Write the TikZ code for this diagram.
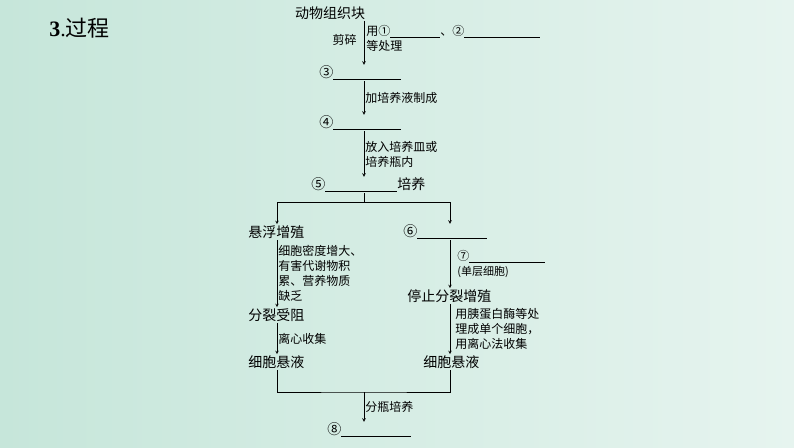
\documentclass[tikz,border=0pt]{standalone}
\usepackage{fontspec}
\setmainfont{Liberation Serif}
\newfontfamily\cjk{Noto Sans CJK SC}
\usetikzlibrary{positioning,calc,arrows}
\definecolor{bgleft}{RGB}{198,230,218}
\definecolor{bgright}{RGB}{230,244,239}
\newcommand{\blank}[1]{\underline{\hspace{#1}}}

\begin{document}
\begin{tikzpicture}[x=1pt,y=-1pt,->,>=stealth,semithick,font=\cjk\fontsize{14}{16}\selectfont]
  \tikzstyle{every node}=[inner sep=1pt]
  \tikzstyle{step label}=[anchor=west]
  \tikzstyle{note}=[anchor=west,align=left,font=\cjk\fontsize{12}{15}\selectfont]

  \shade[left color=bgleft,right color=bgright] (0,0) rectangle (794,447);
  \useasboundingbox (0,0) rectangle (794,447);

  \node[anchor=west,font=\fontsize{22}{24}\selectfont] (title) at (48,28) {\textbf{3}.{\cjk 过程}};

  % trunk
  \coordinate (trunk) at (364,0);
  \node (tissue) at (330,13) {动物组织块};
  \node[step label] (s3) at (318,73) {③\blank{68pt}};
  \node[step label] (s4) at (318,123) {④\blank{68pt}};
  \node[step label] (s5) at (310,185) {⑤\blank{72pt}培养};
  \coordinate (split) at (364,202);
  \coordinate (sl) at (277,202);
  \coordinate (sr) at (450,202);

  \draw (tissue.south -| trunk) -- (s3.north -| trunk)
        node[note,pos=0.4,xshift=1pt] {用①\blank{50pt}、②\blank{76pt}\\等处理};
  \node[anchor=east,font=\cjk\fontsize{12}{13}\selectfont] (cut) at (358,40) {剪碎};
  \draw (s3.south -| trunk) -- (s4.north -| trunk) node[note,midway] {加培养液制成};
  \draw (s4.south -| trunk) -- (s5.north -| trunk) node[note,midway] {放入培养皿或\\培养瓶内};

  % left branch
  \node[step label] (susp) at (247,232) {悬浮增殖};
  \node[step label] (block) at (247,315) {分裂受阻};
  \node[step label] (cellL) at (247,362) {细胞悬液};
  % right branch
  \node[step label] (s6) at (402,232) {⑥\blank{70pt}};
  \node[step label] (stop) at (406,296) {停止分裂增殖};
  \node[step label] (cellR) at (422,362) {细胞悬液};
  \node[step label] (s8) at (326,430) {⑧\blank{70pt}};
  \coordinate (join) at (364,392);

  \draw[-] (s5.south -| trunk) -- (split);
  \draw[-] (sl) -- (sr);
  \draw (sl) -- (susp.north -| sl);
  \draw (sr) -- (s6.north -| sr);
  \draw (susp.south -| sl) -- (block.north -| sl)
        node[note,midway] {细胞密度增大、\\有害代谢物积\\累、营养物质\\缺乏};
  \draw (block.south -| sl) -- (cellL.north -| sl) node[note,midway] {离心收集};
  \draw (s6.south -| sr) -- (stop.north -| sr)
        node[note,midway,xshift=6pt] {⑦\blank{76pt}\\{\fontsize{11}{12}\selectfont(单层细胞)}};
  \draw (stop.south -| sr) -- (cellR.north -| sr)
        node[note,midway,xshift=4pt] {用胰蛋白酶等处\\理成单个细胞，\\用离心法收集};
  \draw[-] (cellL.south -| sl) |- (join) -| (cellR.south -| sr);
  \draw (join) -- (s8.north -| join) node[note,midway] {分瓶培养};
\end{tikzpicture}
\end{document}
